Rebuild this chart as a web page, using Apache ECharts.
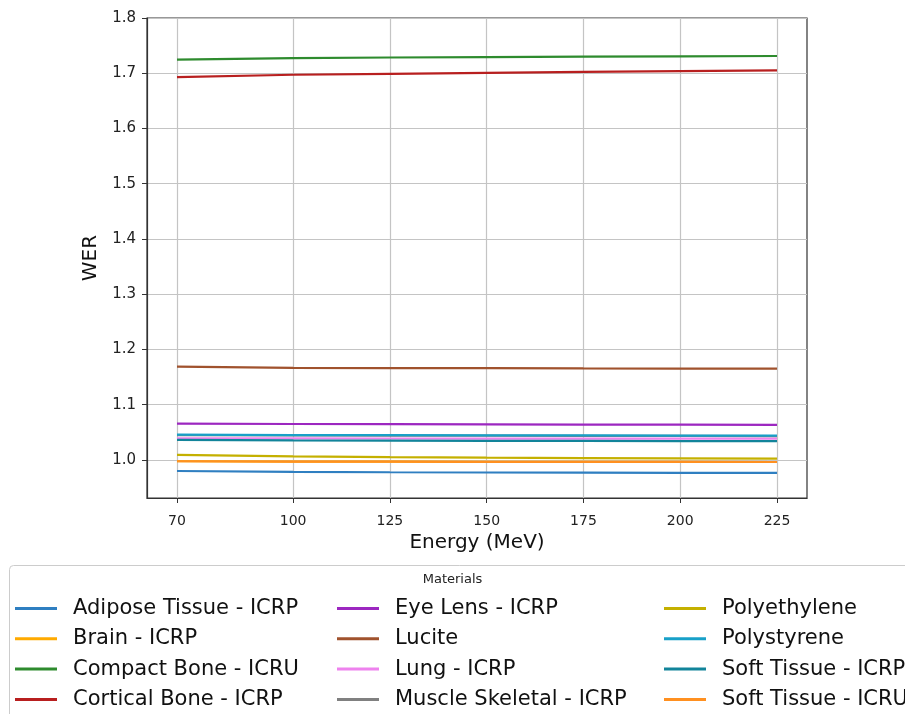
<!DOCTYPE html>
<html>
<head>
<meta charset="utf-8">
<script src="https://cdn.jsdelivr.net/npm/echarts@6/dist/echarts.min.js"></script>
<style>html,body{margin:0;padding:0;background:#fff}#c{width:905px;height:714px}</style>
</head>
<body>
<div id="c"></div>
<script>
const energies = [70, 100, 125, 150, 175, 200, 225];
const xTicks = [70, 100, 125, 150, 175, 200, 225];
const yTicks = [1.0, 1.1, 1.2, 1.3, 1.4, 1.5, 1.6, 1.7, 1.8];

const adipose      = [0.9799, 0.9782, 0.9776, 0.9772, 0.9769, 0.9766, 0.9764];
const brain        = [0.9975, 0.9970, 0.9967, 0.9965, 0.9964, 0.9963, 0.9962];
const compactBone  = [1.7245, 1.7275, 1.7285, 1.7293, 1.7300, 1.7306, 1.7312];
const corticalBone = [1.6931, 1.6973, 1.6990, 1.7008, 1.7025, 1.7040, 1.7051];
const eyeLens      = [1.0656, 1.0650, 1.0647, 1.0644, 1.0640, 1.0637, 1.0634];
const lucite       = [1.1688, 1.1665, 1.1662, 1.1660, 1.1656, 1.1654, 1.1652];
const lung         = [1.0391, 1.0388, 1.0387, 1.0386, 1.0385, 1.0384, 1.0384];
const muscle       = [1.0450, 1.0443, 1.0440, 1.0438, 1.0436, 1.0434, 1.0432];
const polyethylene = [1.0089, 1.0065, 1.0050, 1.0040, 1.0032, 1.0027, 1.0022];
const polystyrene  = [1.0457, 1.0450, 1.0447, 1.0445, 1.0443, 1.0441, 1.0439];
const softICRP     = [1.0362, 1.0352, 1.0348, 1.0345, 1.0343, 1.0341, 1.0339];
const softICRU     = [0.9975, 0.9970, 0.9967, 0.9965, 0.9964, 0.9963, 0.9962];

const names = ['Adipose Tissue - ICRP','Brain - ICRP','Compact Bone - ICRU','Cortical Bone - ICRP',
  'Eye Lens - ICRP','Lucite','Lung - ICRP','Muscle Skeletal - ICRP',
  'Polyethylene','Polystyrene','Soft Tissue - ICRP','Soft Tissue - ICRU'];
const values = [adipose, brain, compactBone, corticalBone, eyeLens, lucite, lung, muscle,
  polyethylene, polystyrene, softICRP, softICRU];
const colors = ['#2f7fc1','#ffaa00','#2e8b2e','#b81f1f','#9c27c0','#a0522d','#ee82ee','#808080',
  '#c4b000','#18a0c8','#12849a','#ff9020'];

const font = 'DejaVu Sans';
const series = names.map((n, i) => ({
  name: n, type: 'line', showSymbol: false, symbol: 'none',
  data: energies.map((e, j) => [e, values[i][j]]),
  lineStyle: { width: 2.2, color: colors[i] },
  itemStyle: { color: colors[i] },
  animation: false
}));

function legendCol(idx, left) {
  return {
    data: idx.map(i => names[i]), orient: 'vertical', left: left, top: 598,
    height: 200, padding: 0,
    itemWidth: 42, itemHeight: 3, itemGap: 9.3, icon: 'rect',
    textStyle: { fontFamily: font, fontSize: 21, lineHeight: 20, color: '#111', padding: [0, 0, 0, 11] }
  };
}

const chart = echarts.init(document.getElementById('c'));
chart.setOption({
  animation: false,
  grid: { left: 147, right: 98, top: 18, bottom: 216, show: true, borderColor: '#333', borderWidth: 1.2 },
  xAxis: {
    type: 'value', min: 62.25, max: 232.75,
    name: 'Energy (MeV)', nameLocation: 'middle', nameGap: 30,
    nameTextStyle: { fontFamily: font, fontSize: 20, color: '#111' },
    axisLine: { show: true, lineStyle: { color: '#333', width: 1.2 } },
    axisTick: { show: true, length: 5, customValues: xTicks, lineStyle: { color: '#333' } },
    axisLabel: { customValues: xTicks, fontFamily: font, fontSize: 14, color: '#222', margin: 16 },
    splitLine: { show: true, lineStyle: { color: '#c4c4c4', width: 1.2 } }
  },
  yAxis: {
    type: 'value', min: 0.931, max: 1.8,
    name: 'WER', nameLocation: 'middle', nameGap: 35,
    nameTextStyle: { fontFamily: font, fontSize: 20, color: '#111' },
    axisLine: { show: true, lineStyle: { color: '#333', width: 1.2 } },
    axisTick: { show: true, length: 5, customValues: yTicks, lineStyle: { color: '#333' } },
    axisLabel: { customValues: yTicks, fontFamily: font, fontSize: 15, color: '#222', margin: 11,
      formatter: v => v.toFixed(1) },
    splitLine: { show: true, lineStyle: { color: '#c4c4c4', width: 1.2 } }
  },
  legend: [legendCol([0,1,2,3], 15), legendCol([4,5,6,7], 337), legendCol([8,9,10,11], 664)],
  graphic: [
    { type: 'rect', left: 9, top: 565, shape: { width: 910, height: 160, r: 4 },
      style: { fill: '#fff', stroke: '#ccc', lineWidth: 1 }, z: -1 },
    { type: 'text', left: 'center', top: 573, style: { text: 'Materials', fontFamily: font, fontSize: 13, fill: '#222' } }
  ],
  series: series
});
</script>
</body>
</html>
